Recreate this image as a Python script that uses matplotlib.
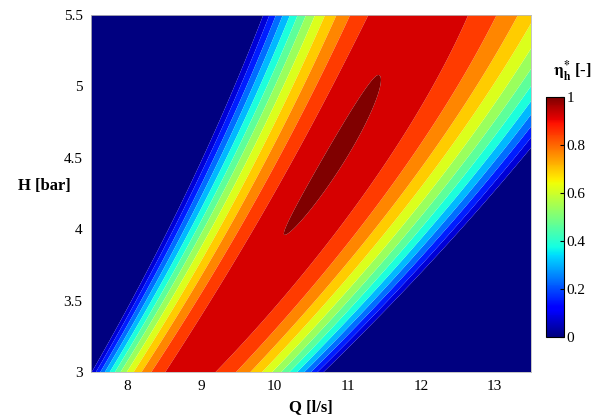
import numpy as np
import matplotlib
matplotlib.use("Agg")
import matplotlib.pyplot as plt
from matplotlib.colors import Normalize
from matplotlib.cm import ScalarMappable

plt.rcParams['font.family'] = ['Liberation Serif', 'DejaVu Serif']
plt.rcParams['mathtext.fontset'] = 'stix'

# ---- values ----
# ridge (best efficiency line) anchors
H_anchor = [3.0, 3.96, 4.52, 5.08, 5.5]
Q_ridge = [8.80, 10.12, 10.80, 11.48, 11.78]
eta_ridge = [0.960, 0.995, 1.000, 0.995, 0.985]
# Q where the normalized efficiency falls to the lowest level (left / right of the ridge)
Q_left_edge = [7.51, 8.52, 9.04, 9.52, 9.85]
Q_right_edge = [10.67, 12.48, 13.42, 14.27, 14.89]

Q_range = [7.5, 13.5]
H_range = [3.0, 5.5]
x_ticks = [8, 9, 10, 11, 12, 13]
y_ticks = [3, 3.5, 4, 4.5, 5, 5.5]
cbar_ticks = [0, 0.2, 0.4, 0.6, 0.8, 1]
n_bands = 14
top_level = 0.995

# ---- build field ----
Q = np.linspace(Q_range[0], Q_range[1], 700)
H = np.linspace(H_range[0], H_range[1], 500)
QQ, HH = np.meshgrid(Q, H)

def smooth(anchor_y, deg):
    c = np.polyfit(H_anchor, anchor_y, deg)
    return np.polyval(c, H)

Qr = smooth(Q_ridge, 2)
P = smooth(eta_ridge, 4)
QL = smooth(Q_left_edge, 2)
QR = smooth(Q_right_edge, 2)

levels_inner = [k * top_level / (n_bands - 1) for k in range(1, n_bands)]
b1 = levels_inner[0]
fac = np.sqrt(1 - b1 / P)
wL = (Qr - QL) / fac
wR = (QR - Qr) / fac
Qr2, P2, wL2, wR2 = Qr[:, None], P[:, None], wL[:, None], wR[:, None]
u = np.where(QQ < Qr2, (QQ - Qr2) / wL2, (QQ - Qr2) / wR2)
Z = P2 * (1 - u ** 2)
Z = np.clip(Z, -1, None)

jet = plt.get_cmap('jet')
band_colors = [jet(k / (n_bands - 1)) for k in range(n_bands)]
levels = [-10] + levels_inner + [10]

fig = plt.figure(figsize=(5.94, 4.17), dpi=100)
ax = fig.add_axes([91 / 594, 45 / 417, 440 / 594, 357 / 417])
ax.contourf(QQ, HH, Z, levels=levels, colors=band_colors, antialiased=True)
ax.set_xlim(Q_range)
ax.set_ylim(H_range)
ax.set_xticks(x_ticks)
ax.set_yticks(y_ticks)
ax.set_yticklabels(['3', '3.5', '4', '4.5', '5', '5.5'])
ax.tick_params(length=0, labelsize=11, pad=6)
for sp in ax.spines.values():
    sp.set_color('#bbbbbb')
    sp.set_linewidth(0.6)
ax.set_xlabel('Q [l/s]', fontsize=12, fontweight='bold', labelpad=4)
ax.set_ylabel('H [bar]', fontsize=12, fontweight='bold', rotation=0, labelpad=4)
ax.yaxis.set_label_coords(-0.107, 0.5)

cax = fig.add_axes([546 / 594, 80 / 417, 17.5 / 594, 240 / 417])
sm = ScalarMappable(norm=Normalize(0, 1), cmap=jet)
cb = fig.colorbar(sm, cax=cax, ticks=cbar_ticks)
cb.ax.set_yticklabels(['0', '0.2', '0.4', '0.6', '0.8', '1'])
cb.ax.tick_params(labelsize=11, length=3, direction='in', pad=2)
cb.outline.set_linewidth(0.8)
fig.text(553 / 594, 1 - 71 / 417, r'$\mathbf{\eta_{h}^{*}}$ [-]', fontsize=12,
         fontweight='bold', va='center', ha='left')

fig.savefig('out.png', dpi=100)
